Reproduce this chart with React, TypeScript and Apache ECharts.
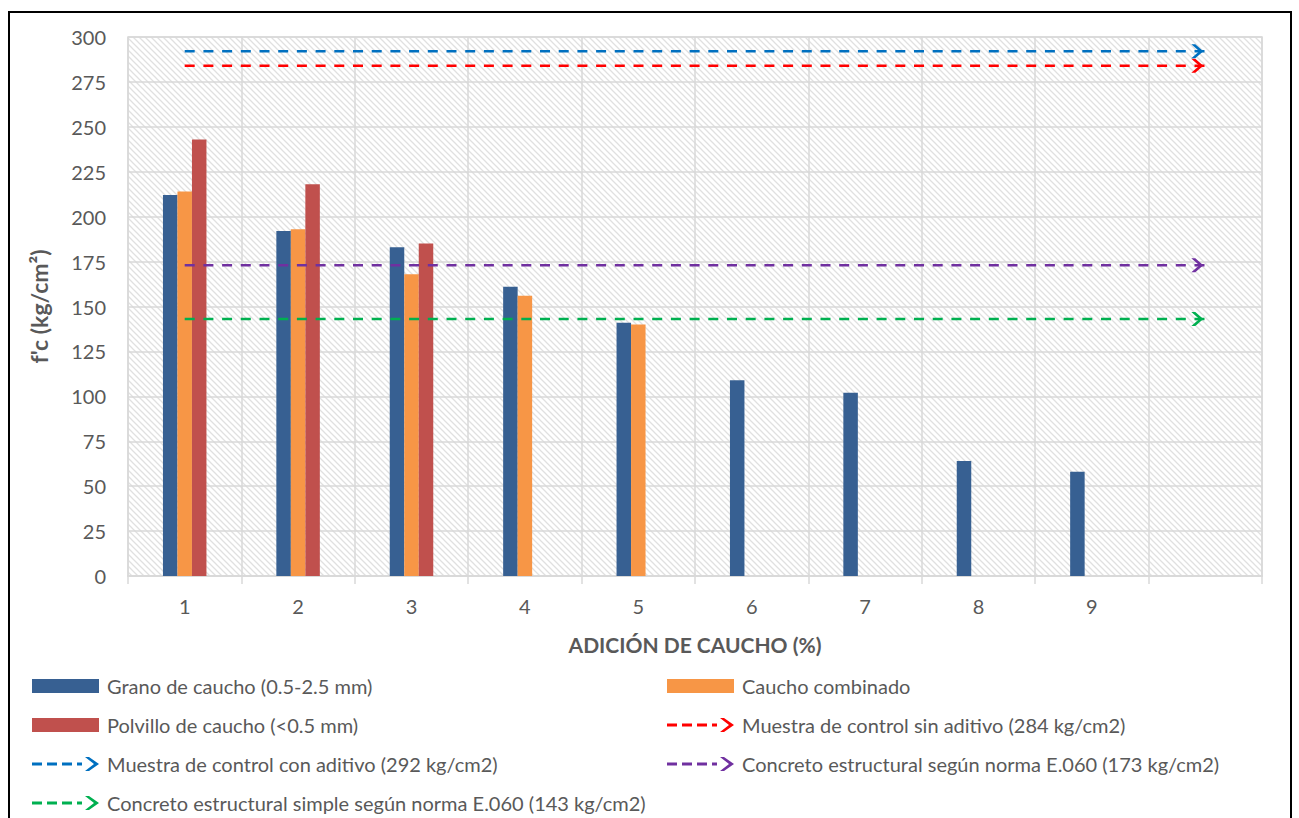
import React, { useEffect, useRef } from "react";
import * as echarts from "echarts";

const categories = ["1", "2", "3", "4", "5", "6", "7", "8", "9", ""];
const granoValues = [212, 192, 183, 161, 141, 109, 102, 64, 58, null];
const combinadoValues = [214, 193, 168, 156, 140, null, null, null, null, null];
const polvilloValues = [243, 218, 185, null, null, null, null, null, null, null];
const sinAditivoLine = [284, 284, 284, 284, 284, 284, 284, 284, 284, 284];
const conAditivoLine = [292, 292, 292, 292, 292, 292, 292, 292, 292, 292];
const estructuralLine = [173, 173, 173, 173, 173, 173, 173, 173, 173, 173];
const simpleLine = [143, 143, 143, 143, 143, 143, 143, 143, 143, 143];
const yMin = 0;
const yMax = 300;
const yInterval = 25;

const N_GRANO = "Grano de caucho (0.5-2.5 mm)";
const N_COMB = "Caucho combinado";
const N_POLV = "Polvillo de caucho (<0.5 mm)";
const N_SIN = "Muestra de control sin aditivo (284 kg/cm2)";
const N_CON = "Muestra de control con aditivo (292 kg/cm2)";
const N_EST = "Concreto estructural según norma E.060 (173 kg/cm2)";
const N_SIMP = "Concreto estructural simple según norma E.060 (143 kg/cm2)";

const FONT = "Lato, 'Open Sans', sans-serif";
const TXT = "#595959";
const GRIDC = "#d9d9d9";

const CHEVRON = "path://M0,0 L4,0 L12,7 L4,14 L0,14 L8,7 Z";
const LEGEND_ARROW =
  "path://M0,5.5 L10,5.5 L10,8.5 L0,8.5 Z M15,5.5 L25,5.5 L25,8.5 L15,8.5 Z M30,5.5 L40,5.5 L40,8.5 L30,8.5 Z M45,5.5 L50,5.5 L50,8.5 L45,8.5 Z M53,0 L57,0 L67,7 L57,14 L53,14 L62,7 Z";

function makeHatch(): HTMLCanvasElement {
  const c = document.createElement("canvas");
  c.width = 6;
  c.height = 6;
  const ctx = c.getContext("2d")!;
  ctx.fillStyle = "#ffffff";
  ctx.fillRect(0, 0, 6, 6);
  ctx.strokeStyle = "#e0e0e0";
  ctx.lineWidth = 1.3;
  ctx.beginPath();
  ctx.moveTo(-1, -1);
  ctx.lineTo(7, 7);
  ctx.moveTo(-1, 5);
  ctx.lineTo(1, 7);
  ctx.moveTo(5, -1);
  ctx.lineTo(7, 1);
  ctx.stroke();
  return c;
}

function refLine(name: string, values: number[], color: string) {
  return {
    name,
    type: "line",
    z: 5,
    symbol: "none",
    showSymbol: true,
    showAllSymbol: true,
    silent: true,
    data: values.map((v, i) =>
      i === values.length - 1
        ? { value: v, symbol: CHEVRON, symbolSize: [12, 14], symbolOffset: [-8, 0] }
        : { value: v, symbol: "none" }
    ),
    lineStyle: { color, width: 2.5, type: [10, 8.7] },
    itemStyle: { color, borderWidth: 0 },
    emphasis: { disabled: true },
  };
}

export default function App() {
  const ref = useRef<HTMLDivElement>(null);
  useEffect(() => {
    if (!ref.current) return;
    const chart = echarts.init(ref.current, undefined, { renderer: "svg" });
    const legendText = { fontFamily: FONT, fontSize: 20, color: TXT, lineHeight: 20, padding: [0, 0, 0, 3] };
    const legendBase = {
      top: 676,
      height: 160,
      padding: 0,
      orient: "vertical",
      itemWidth: 67,
      itemHeight: 14,
      itemGap: 19,
      selectedMode: false,
      textStyle: legendText,
    };
    const barSeries = (name: string, data: (number | null)[], color: string) => ({
      name,
      type: "bar",
      data,
      barWidth: 14.5,
      barGap: "0%",
      itemStyle: { color },
      silent: true,
    });
    chart.setOption({
      animation: false,
      backgroundColor: "#ffffff",
      grid: {
        left: 128,
        right: 37,
        top: 37,
        bottom: 242,
        show: true,
        borderColor: GRIDC,
        borderWidth: 1.5,
        backgroundColor: { image: makeHatch(), repeat: "repeat" },
      },
      xAxis: {
        type: "category",
        data: categories,
        boundaryGap: true,
        name: "ADICIÓN DE CAUCHO (%)",
        nameLocation: "middle",
        nameGap: 58,
        nameTextStyle: { fontFamily: FONT, fontSize: 21, fontWeight: "bold", color: TXT },
        axisLine: { show: true, lineStyle: { color: GRIDC, width: 2 } },
        axisTick: { show: true, length: 8, lineStyle: { color: GRIDC, width: 1.5 } },
        axisLabel: { fontFamily: FONT, fontSize: 20, color: TXT, margin: 20 },
        splitLine: { show: true, lineStyle: { color: GRIDC, width: 1.5 } },
      },
      yAxis: {
        type: "value",
        min: yMin,
        max: yMax,
        interval: yInterval,
        name: "f'c (kg/cm²)",
        nameLocation: "middle",
        nameGap: 78,
        nameTextStyle: { fontFamily: FONT, fontSize: 23, fontWeight: "bold", color: TXT },
        axisLine: { show: false },
        axisTick: { show: false },
        axisLabel: { fontFamily: FONT, fontSize: 20, color: TXT, margin: 22 },
        splitLine: { show: true, lineStyle: { color: GRIDC, width: 1.5 } },
      },
      legend: [
        {
          ...legendBase,
          left: 32,
          data: [
            { name: N_GRANO, icon: "rect" },
            { name: N_POLV, icon: "rect" },
            { name: N_CON, icon: LEGEND_ARROW },
            { name: N_SIMP, icon: LEGEND_ARROW },
          ],
        },
        {
          ...legendBase,
          left: 667,
          data: [
            { name: N_COMB, icon: "rect" },
            { name: N_SIN, icon: LEGEND_ARROW },
            { name: N_EST, icon: LEGEND_ARROW },
          ],
        },
      ],
      graphic: [
        {
          type: "rect",
          silent: true,
          z: 100,
          shape: { x: 9, y: 12, width: 1282, height: 830 },
          style: { fill: "none", stroke: "#000000", lineWidth: 2 },
        },
      ],
      series: [
        barSeries(N_GRANO, granoValues, "#376092"),
        barSeries(N_COMB, combinadoValues, "#F79646"),
        barSeries(N_POLV, polvilloValues, "#C0504D"),
        refLine(N_SIN, sinAditivoLine, "#FF0000"),
        refLine(N_CON, conAditivoLine, "#0070C0"),
        refLine(N_EST, estructuralLine, "#7030A0"),
        refLine(N_SIMP, simpleLine, "#00B050"),
      ],
    });
    return () => chart.dispose();
  }, []);
  return (
    <div
      ref={ref}
      style={{ position: "absolute", left: 0, top: 0, width: 1299, height: 818 }}
    />
  );
}
